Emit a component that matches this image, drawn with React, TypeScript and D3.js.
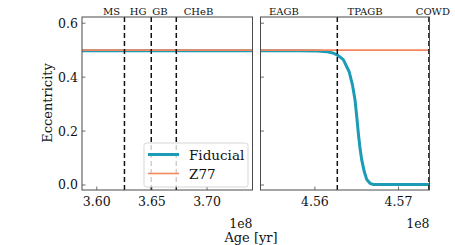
import * as d3 from "d3";

const leftAges = [3.5866, 3.7412];
const leftFiducial = [0.498, 0.498];
const leftZ77 = [0.5, 0.5];
const leftPhaseLines = [3.6251, 3.6494, 3.6721];
const leftPhaseLabels = [
  { name: "MS", at: 3.6135 },
  { name: "HG", at: 3.6374 },
  { name: "GB", at: 3.6573 },
  { name: "CHeB", at: 3.6922 },
];
const leftTicks = [3.6, 3.65, 3.7];

const rightAges = [4.5535, 4.558, 4.5603, 4.5615, 4.5622, 4.5627, 4.5634, 4.5641, 4.5645, 4.5648, 4.5650, 4.5652, 4.5654, 4.5656, 4.5659, 4.5662, 4.5666, 4.5670, 4.5737];
const rightFiducial = [0.498, 0.498, 0.497, 0.494, 0.489, 0.482, 0.465, 0.42, 0.37, 0.315, 0.255, 0.19, 0.135, 0.093, 0.05, 0.02, 0.006, 0.002, 0.002];
const rightZ77Ages = [4.5535, 4.5737];
const rightZ77 = [0.5, 0.5];
const rightPhaseLines = [4.56268, 4.57363];
const rightPhaseLabels = [
  { name: "EAGB", at: 4.5563 },
  { name: "TPAGB", at: 4.5660 },
  { name: "COWD", at: 4.5741 },
];
const rightTicks = [4.56, 4.57];
const yTicks = [0, 0.2, 0.4, 0.6];

const teal = "#1b9bb5";
const orange = "#f4875e";
const frame = "#4a4a4a";
const font = "DejaVu Serif";

const y = d3.scaleLinear().domain([-0.0186, 0.623]).range([190, 17]);

function Panel({ x, ages, fid, z77Ages, z77, lines, labels, ticks, showY }: any) {
  const line = d3.line<number>().x((_, i) => x(ages[i])).y((d) => y(d));
  const line77 = d3.line<number>().x((_, i) => x(z77Ages[i])).y((d) => y(d));
  const [x0, x1] = x.range();
  return (
    <g>
      <defs>
        <clipPath id={`clip${Math.round(x0)}`}>
          <rect x={x0} y={17} width={x1 - x0} height={173} />
        </clipPath>
      </defs>
      <g clipPath={`url(#clip${Math.round(x0)})`}>
        <path d={line(fid) ?? ""} fill="none" stroke={teal} strokeWidth={3} />
        <path d={line77(z77) ?? ""} fill="none" stroke={orange} strokeWidth={1.6} />
        {lines.map((v: number) => (
          <line key={v} x1={x(v)} x2={x(v)} y1={17} y2={190} stroke="#111" strokeWidth={1.5} strokeDasharray="5,3" />
        ))}
      </g>
      {labels.map((l: any) => (
        <text key={l.name} x={x(l.at)} y={15} textAnchor="middle" fontSize={10} fontFamily={font} fill="#111">{l.name}</text>
      ))}
      {ticks.map((t: number) => (
        <g key={t}>
          <line x1={x(t)} x2={x(t)} y1={190} y2={186.5} stroke={frame} strokeWidth={0.8} />
          <text x={x(t)} y={206} textAnchor="middle" fontSize={12.5} fontFamily={font} fill="#111">{t.toFixed(2)}</text>
        </g>
      ))}
      {yTicks.map((t) => (
        <g key={t}>
          <line x1={x0} x2={x0 + 3.5} y1={y(t)} y2={y(t)} stroke={frame} strokeWidth={0.8} />
          {showY && (
            <text x={x0 - 4} y={y(t) + 4.5} textAnchor="end" fontSize={12.5} fontFamily={font} fill="#111">{t.toFixed(1)}</text>
          )}
        </g>
      ))}
      <text x={x1} y={228} textAnchor="end" fontSize={12.5} fontFamily={font} fill="#111">1e8</text>
      <rect x={x0} y={17} width={x1 - x0} height={173} fill="none" stroke={frame} strokeWidth={1} />
    </g>
  );
}

export default function App() {
  const xl = d3.scaleLinear().domain([leftAges[0], leftAges[1]]).range([82, 252.5]);
  const xr = d3.scaleLinear().domain([rightAges[0], rightAges[rightAges.length - 1]]).range([260.5, 429.5]);
  return (
    <svg width={455} height={245} style={{ position: "absolute", left: 0, top: 0 }}>
      <rect width={455} height={245} fill="#fff" />
      <Panel x={xl} ages={leftAges} fid={leftFiducial} z77Ages={leftAges} z77={leftZ77} lines={leftPhaseLines} labels={leftPhaseLabels} ticks={leftTicks} showY />
      <Panel x={xr} ages={rightAges} fid={rightFiducial} z77Ages={rightZ77Ages} z77={rightZ77} lines={rightPhaseLines} labels={rightPhaseLabels} ticks={rightTicks} showY={false} />
      <g>
        <rect x={144} y={143} width={104} height={44} rx={2.5} fill="#fff" fillOpacity={0.8} stroke="#ccc" strokeWidth={0.8} />
        <line x1={148} x2={179} y1={154.5} y2={154.5} stroke={teal} strokeWidth={3} />
        <text x={189} y={159.5} fontSize={13.5} fontFamily={font} fill="#111">Fiducial</text>
        <line x1={148} x2={179} y1={173.5} y2={173.5} stroke={orange} strokeWidth={1.6} />
        <text x={189} y={178.5} fontSize={13.5} fontFamily={font} fill="#111">Z77</text>
      </g>
      <text x={251} y={241.5} textAnchor="middle" fontSize={13} fontFamily={font} fill="#111">Age [yr]</text>
      <text transform="translate(52,103) rotate(-90)" textAnchor="middle" fontSize={13} fontFamily={font} fill="#111">Eccentricity</text>
    </svg>
  );
}
